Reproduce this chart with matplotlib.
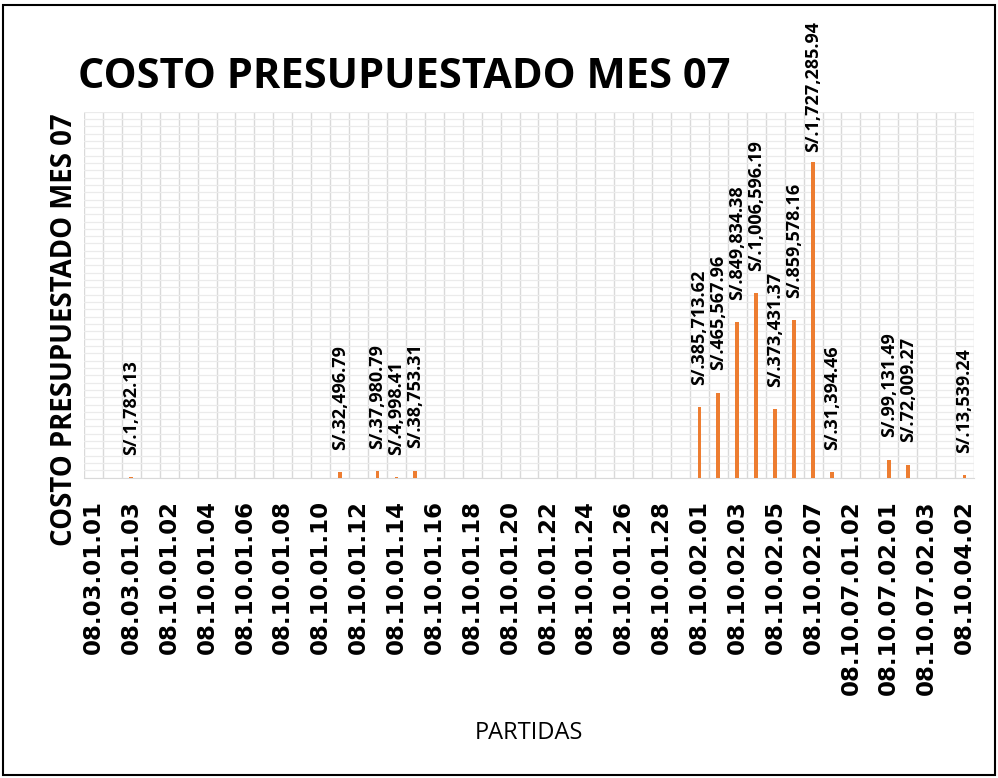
import matplotlib
matplotlib.use("Agg")
import matplotlib.pyplot as plt
from matplotlib.patches import Rectangle
import numpy as np

# partidas (47 categorias, solo se rotulan las pares)
partidas = ["08.03.01.01", "08.03.01.02", "08.03.01.03"]
partidas += ["08.10.01.%02d" % k for k in range(1, 30)]
partidas += ["08.10.02.%02d" % k for k in range(1, 8)]
partidas += ["08.10.07.01.01", "08.10.07.01.02", "08.10.07.01.03",
             "08.10.07.02.01", "08.10.07.02.02", "08.10.07.02.03",
             "08.10.04.01", "08.10.04.02"]

# montos presupuestados (S/.) por partida
montos = np.zeros(len(partidas))
con_monto = {
    "08.03.01.03": 1782.13,
    "08.10.01.11": 32496.79,
    "08.10.01.13": 37980.79,
    "08.10.01.14": 4998.41,
    "08.10.01.15": 38753.31,
    "08.10.02.01": 385713.62,
    "08.10.02.02": 465567.96,
    "08.10.02.03": 849834.38,
    "08.10.02.04": 1006596.19,
    "08.10.02.05": 373431.37,
    "08.10.02.06": 859578.16,
    "08.10.02.07": 1727285.94,
    "08.10.07.01.01": 31394.46,
    "08.10.07.02.01": 99131.49,
    "08.10.07.02.02": 72009.27,
    "08.10.04.02": 13539.24,
}
for k, v in con_monto.items():
    montos[partidas.index(k)] = v

naranja = "#ED7D31"
x = np.arange(len(partidas))

fig = plt.figure(figsize=(9.98, 7.78), dpi=100)
ax = fig.add_axes([84/998, 1-477.7/778, 890/998, 366/778])

ax.bar(x, montos, width=0.2, color=naranja, zorder=3)
ax.set_xlim(-0.5, len(partidas)-0.5)
ax.set_ylim(0, 2000000)

# rejilla
ax.set_yticks(np.arange(0, 2000001, 40000))
ax.set_yticklabels([])
ax.tick_params(axis="y", length=0)
ax.set_xticks(np.arange(-0.5, len(partidas), 1), minor=True)
ax.grid(axis="x", which="minor", color="#D9D9D9", lw=1, zorder=0)
ax.grid(axis="y", which="major", color="#EBEBEB", lw=0.9, zorder=0)
for s in ["left", "right", "top"]:
    ax.spines[s].set_visible(False)
ax.spines["bottom"].set_color("#D9D9D9")
ax.tick_params(axis="x", which="both", length=0)

ax.set_xticks(x[::2])
ax.set_xticklabels(partidas[::2], rotation=90, fontsize=16.5,
                   fontweight="bold", family="DejaVu Sans")
ax.tick_params(axis="x", pad=16)

# etiquetas de datos
tope = montos.max()
for xi, v in zip(x, montos):
    if v <= 0:
        continue
    off = 7 if v == tope else 16
    ax.annotate("S/.{:,.2f}".format(v), (xi, v), xytext=(0, off),
                textcoords="offset points", rotation=90, ha="center",
                va="bottom", fontsize=13, fontweight="bold",
                family="Open Sans", annotation_clip=False)

fig.text(78/998, 1-77/778, "COSTO PRESUPUESTADO MES 07", ha="left",
         va="center", fontsize=30, fontweight="bold", family="Open Sans")
fig.text(65/998, 1-330/778, "COSTO PRESUPUESTADO MES 07", ha="center",
         va="center", rotation=90, fontsize=19.8, fontweight="bold",
         family="Open Sans")
fig.text(529/998, 1-733/778, "PARTIDAS", ha="center", va="center",
         fontsize=17, family="Open Sans")

fig.patches.append(Rectangle((3/998, 3/778), 992/998, 770/778,
                             transform=fig.transFigure, fill=False,
                             edgecolor="black", lw=1.5))

fig.savefig("out.png", dpi=100)
